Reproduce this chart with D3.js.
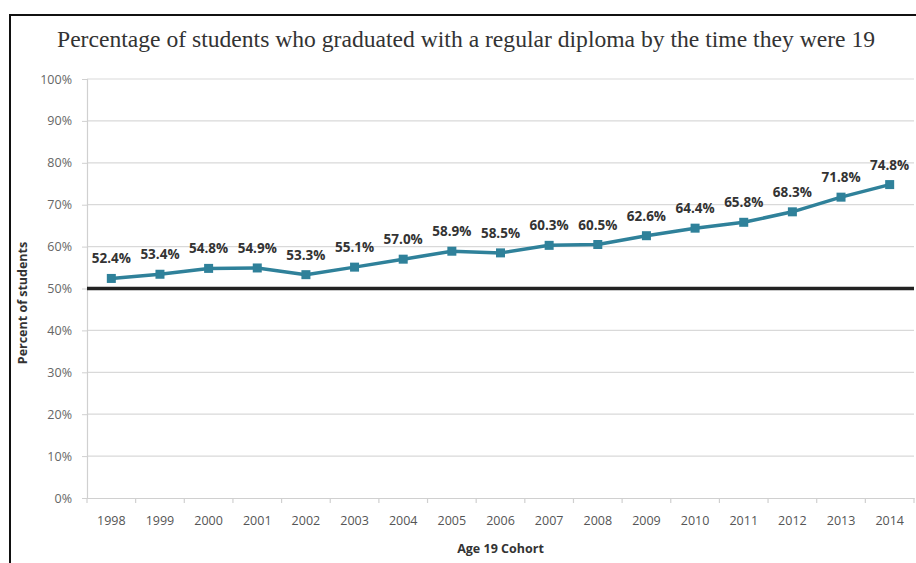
<!DOCTYPE html>
<html>
<head>
<meta charset="utf-8">
<script src="https://cdn.jsdelivr.net/npm/d3@7/dist/d3.min.js"></script>
<style>
  html, body { margin: 0; padding: 0; background: #fff; }
  svg { display: block; }
</style>
</head>
<body>
<svg id="chart" width="916" height="563"></svg>
<script>
// Age 19 cohorts and the share of each that graduated with a regular diploma
const years = ["1998","1999","2000","2001","2002","2003","2004","2005","2006","2007","2008","2009","2010","2011","2012","2013","2014"];
const values = [52.4, 53.4, 54.8, 54.9, 53.3, 55.1, 57.0, 58.9, 58.5, 60.3, 60.5, 62.6, 64.4, 65.8, 68.3, 71.8, 74.8];
const yTicks = [0, 10, 20, 30, 40, 50, 60, 70, 80, 90, 100];
const referenceLine = [50];

const titleText = "Percentage of students who graduated with a regular diploma by the time they were 19";
const xTitle = "Age 19 Cohort";
const yTitle = "Percent of students";

const svg = d3.select("#chart");
const W = 916, H = 563;
const plot = { left: 87, right: 914, top: 79, bottom: 498 };

const x = d3.scaleBand().domain(years).range([plot.left, plot.right]).paddingInner(0).paddingOuter(0);
const y = d3.scaleLinear().domain([0, 100]).range([plot.bottom, plot.top]);

const lineColor = "#2f819a";
const labelFont = "'Open Sans', 'DejaVu Sans', sans-serif";

// outer frame (left and top edges)
svg.append("path")
  .attr("d", `M10,${H} L10,15 L${W},15`)
  .attr("fill", "none").attr("stroke", "#111").attr("stroke-width", 2);

// title
svg.append("text")
  .attr("x", 466).attr("y", 47)
  .attr("text-anchor", "middle")
  .attr("font-family", "'Liberation Serif', 'Times New Roman', serif")
  .attr("font-size", 23)
  .attr("fill", "#333")
  .attr("textLength", 818)
  .attr("lengthAdjust", "spacingAndGlyphs")
  .text(titleText);

// horizontal gridlines
svg.append("g").selectAll("line").data(yTicks.filter(d => d > 0)).join("line")
  .attr("x1", plot.left).attr("x2", plot.right)
  .attr("y1", d => y(d)).attr("y2", d => y(d))
  .attr("stroke", "#d9d9d9").attr("stroke-width", 1.2);

// y axis
const yAxis = d3.axisLeft(y).tickValues(yTicks).tickFormat(d => d + "%").tickSize(5).tickPadding(10);
const gy = svg.append("g").attr("transform", `translate(${plot.left},0)`).call(yAxis);
gy.select(".domain").attr("stroke", "#d0d0d0").attr("stroke-width", 1.2);
gy.selectAll(".tick line").attr("stroke", "#d0d0d0");
gy.selectAll(".tick text")
  .attr("font-family", labelFont).attr("font-size", 12.5).attr("fill", "#666");

// x axis with ticks at category boundaries
const xAxis = d3.axisBottom(x).tickSize(0).tickPadding(18);
const gx = svg.append("g").attr("transform", `translate(0,${plot.bottom})`).call(xAxis);
gx.select(".domain").attr("stroke", "#d0d0d0").attr("stroke-width", 1.2);
gx.selectAll(".tick text")
  .attr("font-family", labelFont).attr("font-size", 12.5).attr("fill", "#555");
gx.append("g").selectAll("line").data(years.concat(["end"])).join("line")
  .attr("x1", (d, i) => plot.left + i * x.bandwidth())
  .attr("x2", (d, i) => plot.left + i * x.bandwidth())
  .attr("y1", 0).attr("y2", 5)
  .attr("stroke", "#d0d0d0").attr("stroke-width", 1.2);

// axis titles
svg.append("text")
  .attr("x", (plot.left + plot.right) / 2).attr("y", 553)
  .attr("text-anchor", "middle")
  .attr("font-family", labelFont).attr("font-weight", "bold").attr("font-size", 12.5)
  .attr("fill", "#333")
  .text(xTitle);
svg.append("text")
  .attr("transform", "translate(27,303) rotate(-90)")
  .attr("text-anchor", "middle")
  .attr("font-family", labelFont).attr("font-weight", "bold").attr("font-size", 12.5)
  .attr("fill", "#333")
  .text(yTitle);

// 50% reference line
svg.append("g").selectAll("line").data(referenceLine).join("line")
  .attr("x1", plot.left).attr("x2", plot.right)
  .attr("y1", d => y(d)).attr("y2", d => y(d))
  .attr("stroke", "#222").attr("stroke-width", 3.5);

// series line
const pts = years.map((yr, i) => ({ yr, v: values[i] }));
const cx = d => x(d.yr) + x.bandwidth() / 2;
svg.append("path")
  .datum(pts)
  .attr("d", d3.line().x(cx).y(d => y(d.v)))
  .attr("fill", "none").attr("stroke", lineColor).attr("stroke-width", 3.5)
  .attr("stroke-linejoin", "round");

// square markers
const m = 9;
svg.append("g").selectAll("rect").data(pts).join("rect")
  .attr("x", d => cx(d) - m / 2).attr("y", d => y(d.v) - m / 2)
  .attr("width", m).attr("height", m)
  .attr("fill", lineColor);

// value labels
svg.append("g").selectAll("text").data(pts).join("text")
  .attr("x", cx).attr("y", d => y(d.v) - 15)
  .attr("text-anchor", "middle")
  .attr("font-family", labelFont).attr("font-weight", "bold").attr("font-size", 13.5)
  .attr("fill", "#333")
  .text(d => d.v.toFixed(1) + "%");
</script>
</body>
</html>
